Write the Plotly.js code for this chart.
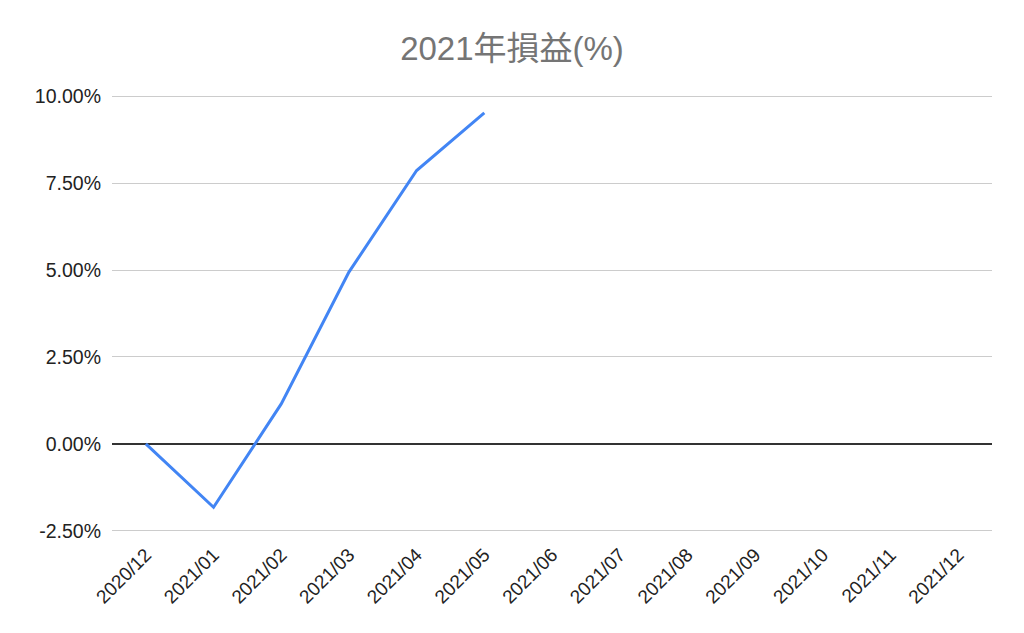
<!DOCTYPE html>
<html>
<head>
<meta charset="utf-8">
<script src="https://cdn.plot.ly/plotly-3.0.1.min.js"></script>
<style>html,body{margin:0;padding:0;background:#fff}#chart{width:1024px;height:633px}</style>
</head>
<body>
<div id="chart"></div>
<script>
const months = ["2020/12","2021/01","2021/02","2021/03","2021/04","2021/05","2021/06","2021/07","2021/08","2021/09","2021/10","2021/11","2021/12"];
const profitPct = [0, -1.82, 1.15, 4.94, 7.86, 9.52, null, null, null, null, null, null, null];
const yTicks = [-2.5, 0, 2.5, 5, 7.5, 10];
const yTickText = ["-2.50%","0.00%","2.50%","5.00%","7.50%","10.00%"];

const trace = {
  x: months,
  y: profitPct,
  type: "scatter",
  mode: "lines",
  line: {color: "#4285F4", width: 3},
  connectgaps: false,
  hoverinfo: "x+y"
};

const layout = {
  width: 1024, height: 633,
  margin: {l: 112, r: 32, t: 94, b: 100},
  paper_bgcolor: "#fff", plot_bgcolor: "#fff",
  showlegend: false,
  title: {text: "2021年損益(%)", x: 0.5, xanchor: "center", y: 0.923, yanchor: "middle",
    font: {family: "Arial, 'Liberation Sans', 'Noto Sans CJK JP', sans-serif", size: 33, color: "#757575"}},
  xaxis: {
    type: "category",
    categoryorder: "array", categoryarray: months,
    range: [-0.5, 12.5],
    tickangle: -45,
    showgrid: false, zeroline: false, showline: false,
    ticks: "", ticklabelstandoff: 6,
    tickfont: {family: "Arial, 'Liberation Sans', sans-serif", size: 19, color: "#222"}
  },
  yaxis: {
    range: [-2.56, 10.06],
    tickvals: yTicks, ticktext: yTickText,
    showgrid: true, gridcolor: "#cccccc", gridwidth: 1,
    zeroline: true, zerolinecolor: "#333333", zerolinewidth: 1.3,
    showline: false, ticks: "", ticklabelstandoff: 10,
    tickfont: {family: "Arial, 'Liberation Sans', sans-serif", size: 19.5, color: "#222"}
  }
};

Plotly.newPlot("chart", [trace], layout, {displayModeBar: false, staticPlot: true});
</script>
</body>
</html>
